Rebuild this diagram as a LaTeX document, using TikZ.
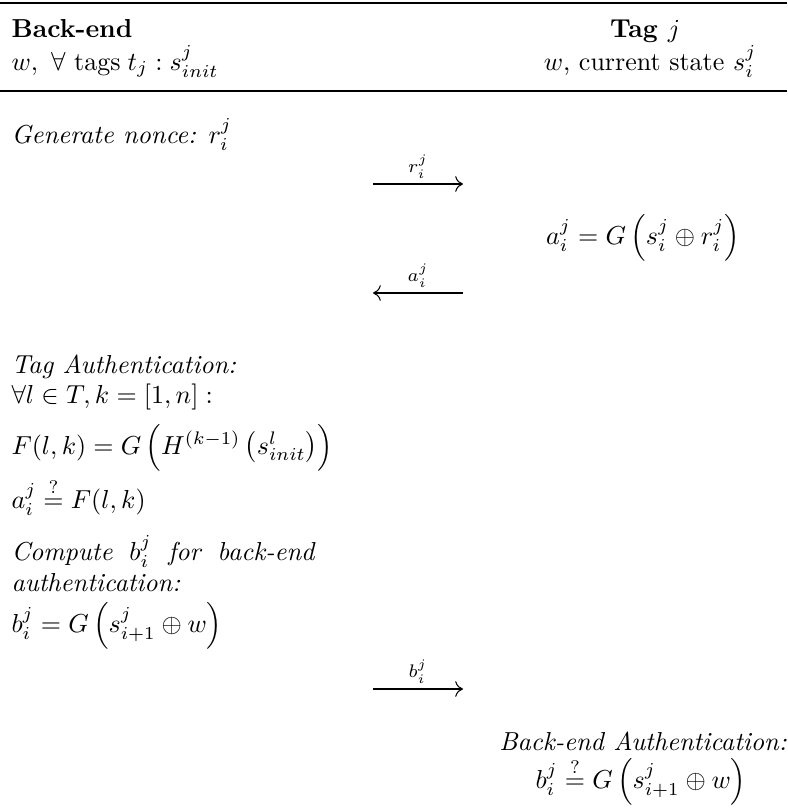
\documentclass[tikz,border=0pt]{standalone}
\usepackage{amsmath,amssymb}
\usepackage{tikz}
\usetikzlibrary{positioning,arrows.meta}
\tikzset{
  txt/.style={anchor=base west, inner sep=0pt},
  ctr/.style={anchor=base, inner sep=0pt},
  party/.style={font=\bfseries},
  note/.style={font=\itshape},
  msg/.style={-{To[length=3pt,width=6pt]}, line width=0.4pt},
  lbl/.style={above, inner sep=2pt, font=\scriptsize},
  toprl/.style={line width=0.8pt},
  midrl/.style={line width=0.5pt},
}

\begin{document}
\begin{tikzpicture}[x=0.3846pt, y=-0.3846pt]
    \useasboundingbox (0,0) rectangle (787,810);
    % header
    \draw[toprl] (0,3) -- (787,3);
    \node[txt, party] (be) at (11,37) {Back-end};
    \node[ctr, party] (tag) at (645,37) {Tag $j$};
    \node[txt] (beinit) at (11,70) {$w,\ \forall\ \text{tags}\; t_j : s_{init}^j$};
    \node[ctr] (taginit) at (650,70) {$w$, current state $s_i^j$};
    \draw[midrl] (0,91) -- (787,91);
    % challenge
    \node[txt, note] (nonce) at (11,143) {Generate nonce: $r_i^j$};
    \coordinate (r0) at (373,184); \coordinate (r1) at (463,184);
    \draw[msg] (r0) -- node[lbl] (rlbl) {$r_i^j$} (r1);
    \node[ctr] (aeq) at (643,244) {$a_i^j = G\,\Bigl(s_i^j \oplus r_i^j\Bigr)$};
    \coordinate (a0) at (463,293); \coordinate (a1) at (373,293);
    \draw[msg] (a0) -- node[lbl] (albl) {$a_i^j$} (a1);
    % tag authentication
    \node[txt, note] (tauth) at (11,373) {Tag Authentication:};
    \node[txt] (forall) at (11,403) {$\forall l \in T, k = [1,n]:$};
    \node[txt] (fdef) at (11,454) {$F(l,k) = G\,\Bigl(H^{(k-1)}\,\bigl(s_{init}^l\bigr)\Bigr)$};
    \node[txt] (acheck) at (11,508) {$a_i^j \stackrel{?}{=} F(l,k)$};
    \node[txt, note] (comp) at (11,560) {\parbox[t]{116.5pt}{Compute $b_i^j$ for back-end authentication:}};
    \node[txt] (beq) at (11,632) {$b_i^j = G\,\Bigl(s_{i+1}^j \oplus w\Bigr)$};
    \coordinate (b0) at (373,689); \coordinate (b1) at (463,689);
    \draw[msg] (b0) -- node[lbl] (blbl) {$b_i^j$} (b1);
    % back-end authentication
    \node[ctr, note] (bauth) at (643,750) {Back-end Authentication:};
    \node[ctr] (bcheck) at (641,788) {$b_i^j \stackrel{?}{=} G\,\Bigl(s_{i+1}^j \oplus w\Bigr)$};
  \end{tikzpicture}
\end{document}
